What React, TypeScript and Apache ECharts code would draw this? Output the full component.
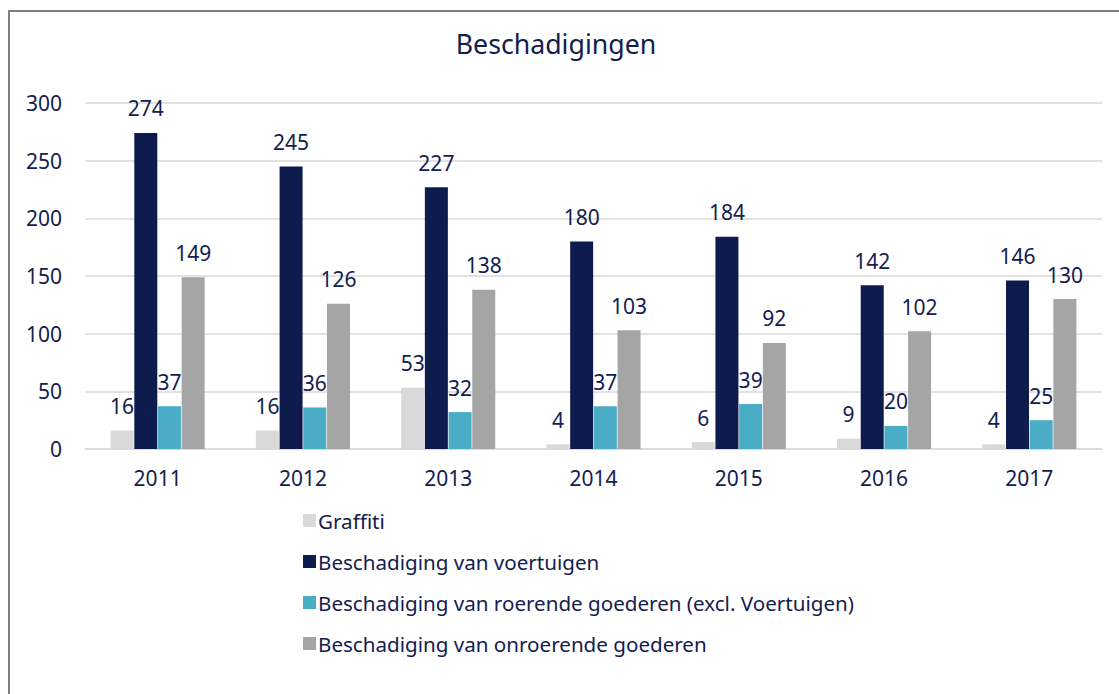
import React, { useEffect, useRef } from "react";
import * as echarts from "echarts";

const years = ["2011", "2012", "2013", "2014", "2015", "2016", "2017"];
const graffiti = [16, 16, 53, 4, 6, 9, 4];
const voertuigen = [274, 245, 227, 180, 184, 142, 146];
const roerende = [37, 36, 32, 37, 39, 20, 25];
const onroerende = [149, 126, 138, 103, 92, 102, 130];
const seriesNames = [
  "Graffiti",
  "Beschadiging van voertuigen",
  "Beschadiging van roerende goederen (excl. Voertuigen)",
  "Beschadiging van onroerende goederen",
];
const seriesColors = ["#D9D9D9", "#0E1B4D", "#4BACC6", "#A5A5A5"];
const yTicks = { min: 0, max: 300, interval: 50 };

const TEXT = "#13204F";
const FONT = "Noto Sans";

export default function App() {
  const ref = useRef<HTMLDivElement>(null);
  useEffect(() => {
    if (!ref.current) return;
    const chart = echarts.init(ref.current, undefined, { renderer: "svg" });
    const data = [graffiti, voertuigen, roerende, onroerende];
    chart.setOption({
      animation: false,
      backgroundColor: "#ffffff",
      textStyle: { fontFamily: FONT },
      title: {
        text: "Beschadigingen",
        left: 551,
        textAlign: "center",
        top: 25,
        textStyle: { fontFamily: FONT, fontSize: 26.7, fontWeight: "normal", color: TEXT },
      },
      graphic: [
        {
          type: "rect",
          shape: { x: 9, y: 11, width: 1300, height: 900 },
          style: { fill: "none", stroke: "#808080", lineWidth: 2 },
          silent: true,
        },
      ],
      legend: {
        orient: "vertical",
        left: 298,
        top: 505,
        itemWidth: 13,
        itemHeight: 13,
        itemGap: 20,
        icon: "rect",
        data: seriesNames,
        textStyle: { fontFamily: FONT, fontSize: 20.6, color: TEXT, padding: [0, 0, 0, -3] },
      },
      grid: { left: 85, right: 17, top: 103, bottom: 245, containLabel: false },
      xAxis: {
        type: "category",
        data: years,
        axisLine: { lineStyle: { color: "#D9D9D9", width: 1.5 } },
        axisTick: { show: false },
        axisLabel: { color: TEXT, fontSize: 21, fontFamily: FONT, margin: 18 },
      },
      yAxis: {
        type: "value",
        min: yTicks.min,
        max: yTicks.max,
        interval: yTicks.interval,
        axisLine: { show: false },
        axisTick: { show: false },
        splitLine: { lineStyle: { color: "#D9D9D9", width: 1.5 } },
        axisLabel: { color: TEXT, fontSize: 21, fontFamily: FONT, margin: 23 },
      },
      series: seriesNames.map((name, i) => ({
        name,
        type: "bar",
        data: data[i],
        barWidth: 23,
        barGap: "3%",
        itemStyle: { color: seriesColors[i] },
        label: {
          show: true,
          position: "top",
          distance: 14,
          color: TEXT,
          fontSize: 21,
          fontFamily: FONT,
        },
      })),
    });
    return () => chart.dispose();
  }, []);
  return (
    <div
      ref={ref}
      style={{ position: "fixed", left: 0, top: 0, width: 1119, height: 694 }}
    />
  );
}
